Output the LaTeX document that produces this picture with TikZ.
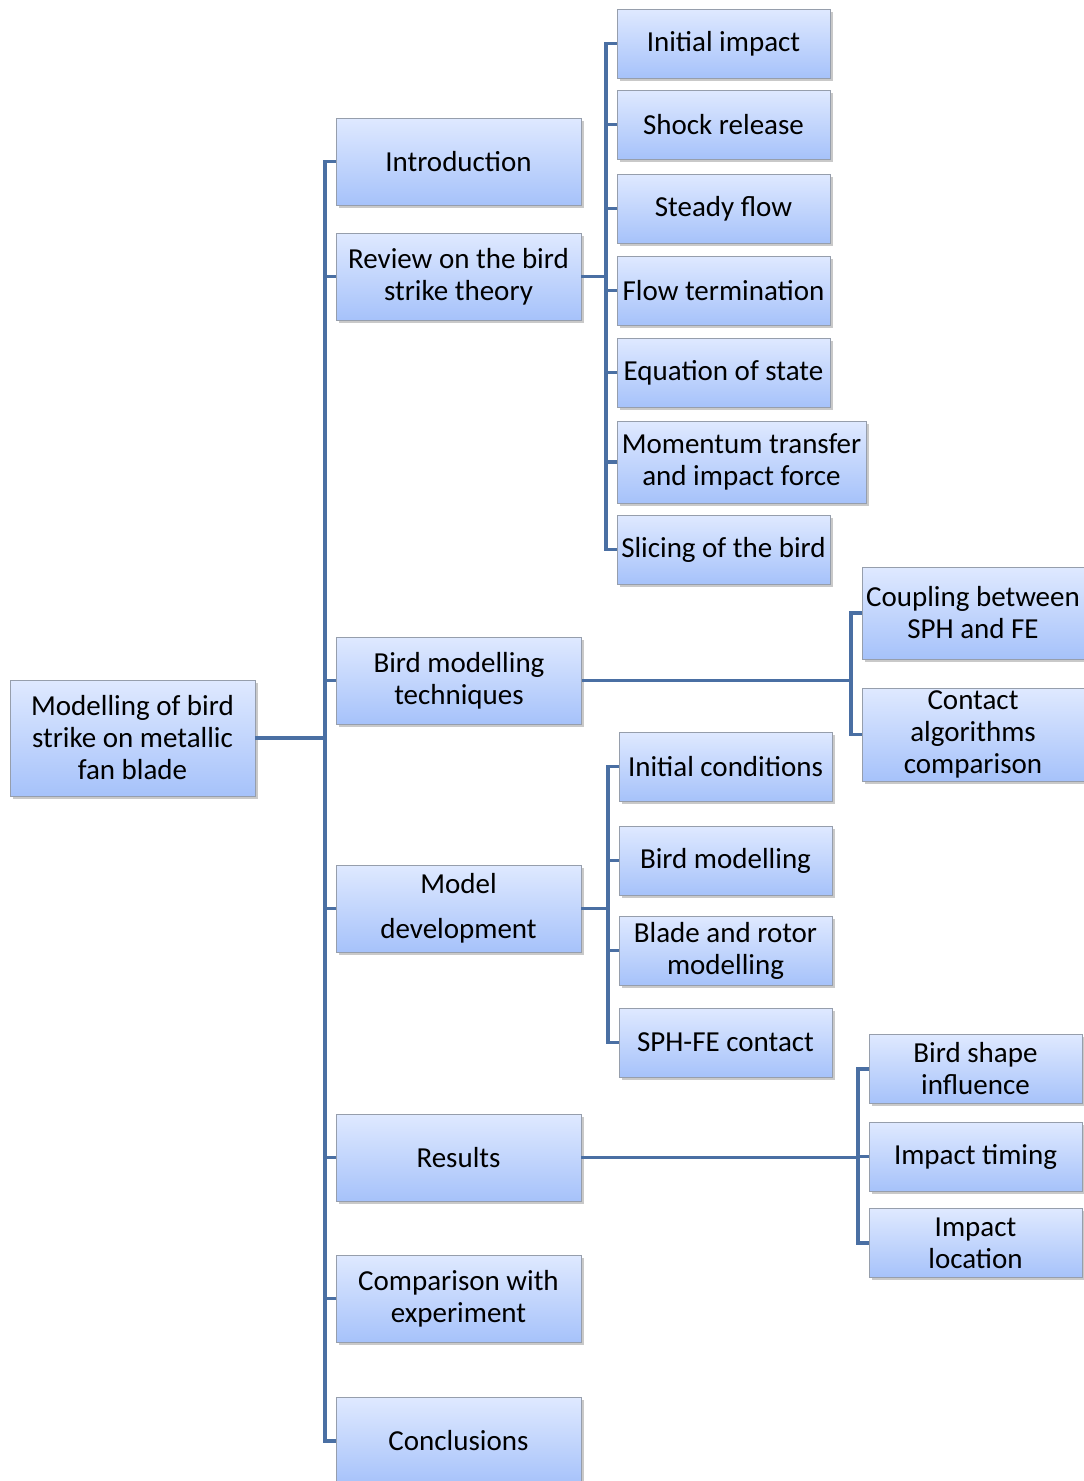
\documentclass[tikz,border=0pt]{standalone}
\usepackage{fontspec}
\setmainfont{Carlito}
\usetikzlibrary{shadows}

\definecolor{linkblue}{RGB}{74,111,163}
\definecolor{boxtop}{RGB}{223,233,255}
\definecolor{boxbot}{RGB}{166,194,250}
\definecolor{boxedge}{RGB}{150,158,172}

\tikzset{
	box/.style={draw=boxedge, line width=0.8pt, top color=boxtop, bottom color=boxbot,
		drop shadow={shadow xshift=2.5pt, shadow yshift=-2.5pt, opacity=0.3, fill=black!70},
		align=center, inner sep=0pt, font=\fontsize{29}{32}\selectfont},
	wide/.style={box, minimum width=245pt, minimum height=87pt},
	sub/.style={box, minimum width=213pt, minimum height=69pt},
	link/.style={draw=linkblue, line width=3.5pt}
}

\begin{document}
\begin{tikzpicture}[x=1pt,y=-1pt]
			\useasboundingbox (0,0) rectangle (1084,1481);
			
			% Root
			\node[box, minimum width=245pt, minimum height=116pt] (root) at (132.5,738) {Modelling of bird\\strike on metallic\\fan blade};
			
			% Chapters
			\node[wide] (intro)   at (458.5,161.5)  {Introduction};
			\node[wide] (review)  at (458.5,276.5)  {Review on the bird\\strike theory};
			\node[wide] (tech)    at (459,680.5)    {Bird modelling\\techniques};
			\node[wide] (model)   at (458.5,908.5)  {Model\\[13pt]development};
			\node[wide] (results) at (458.5,1157.5) {Results};
			\node[wide] (compare) at (458.5,1298.5) {Comparison with\\experiment};
			\node[wide] (concl)   at (458.5,1441)   {Conclusions};
			
			% Review sections
			\node[sub] (impact)  at (723.5,43.5)  {Initial impact};
			\node[sub] (shock)   at (723.5,124.5) {Shock release};
			\node[sub] (steady)  at (723.5,208.5) {Steady flow};
			\node[sub] (term)    at (723.5,290.5) {Flow termination};
			\node[sub] (eos)     at (723.5,372.5) {Equation of state};
			\node[box, minimum width=249pt, minimum height=82pt] (moment) at (741.5,462) {Momentum transfer\\and impact force};
			\node[sub] (slice)   at (723.5,549.5) {Slicing of the bird};
			
			% Technique sections
			\node[box, minimum width=222pt, minimum height=92pt] (coupl)   at (973,613)   {Coupling between\\SPH and FE};
			\node[box, minimum width=222pt, minimum height=93pt] (contalg) at (973,734.5) {Contact\\algorithms\\comparison};
			
			% Model sections
			\node[sub] (initcond) at (725.5,766.5)  {Initial conditions};
			\node[sub] (birdmod)  at (725.5,860.5)  {Bird modelling};
			\node[sub] (blade)    at (725.5,950.5)  {Blade and rotor\\modelling};
			\node[sub] (sphfe)    at (725.5,1042.5) {SPH-FE contact};
			
			% Result sections
			\node[sub] (shape)  at (975.5,1069)   {Bird shape\\influence};
			\node[sub] (timing) at (975.5,1156.5) {Impact timing};
			\node[sub] (loc)    at (975.5,1243)   {Impact\\location};
			
			% Connectors
			\coordinate (t0) at (325,738);
			\draw[link] (root.east) -- (t0);
			\foreach \n in {intro,review,tech,model,results,compare,concl}
				\draw[link] (t0) |- (\n.west);
			
			\coordinate (t1) at (606,276.5);
			\draw[link] (review.east) -- (t1);
			\foreach \n in {impact,shock,steady,term,eos,moment,slice}
				\draw[link] (t1) |- (\n.west);
			
			\coordinate (t2) at (851,680.5);
			\draw[link] (tech.east) -- (t2);
			\foreach \n in {coupl,contalg}
				\draw[link] (t2) |- (\n.west);
			
			\coordinate (t3) at (608,908.5);
			\draw[link] (model.east) -- (t3);
			\foreach \n in {initcond,birdmod,blade,sphfe}
				\draw[link] (t3) |- (\n.west);
			
			\coordinate (t4) at (858,1157.5);
			\draw[link] (results.east) -- (t4);
			\foreach \n in {shape,timing,loc}
				\draw[link] (t4) |- (\n.west);
		\end{tikzpicture}
\end{document}
